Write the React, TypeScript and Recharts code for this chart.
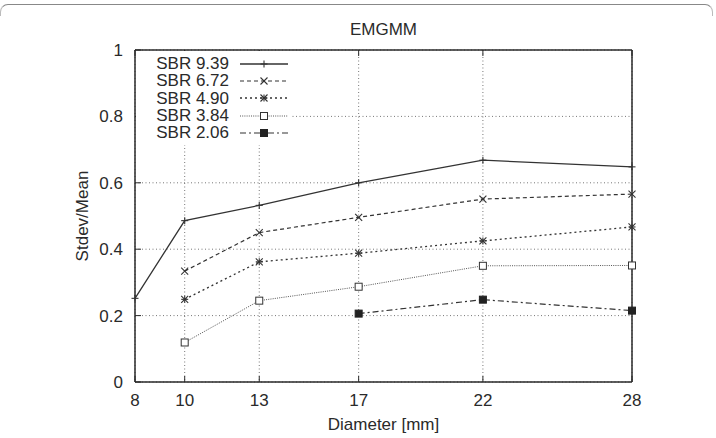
import React from 'react';
import { LineChart, Line, XAxis, YAxis, CartesianGrid, Legend, Label } from 'recharts';

const diameters = [8, 10, 13, 17, 22, 28];
const sbr939 = [0.252, 0.486, 0.532, 0.600, 0.668, 0.648];
const sbr672 = [null, 0.334, 0.450, 0.496, 0.551, 0.566];
const sbr490 = [null, 0.249, 0.362, 0.388, 0.425, 0.467];
const sbr384 = [null, 0.119, 0.245, 0.287, 0.350, 0.351];
const sbr206 = [null, null, null, 0.206, 0.248, 0.215];

const xTicks = [8, 10, 13, 17, 22, 28];
const yTicks = [0, 0.2, 0.4, 0.6, 0.8, 1];
const yTickLabels = ['0', '0.2', '0.4', '0.6', '0.8', '1'];

const title = 'EMGMM';
const xLabel = 'Diameter [mm]';
const yLabel = 'Stdev/Mean';

const FONT = '"Liberation Sans", Arial, Helvetica, sans-serif';
const INK = '#2a2a2a';
const FS = 17;

type Kind = 'plus' | 'cross' | 'star' | 'square' | 'fsquare';

const series: { key: string; name: string; values: (number | null)[]; dash: string; kind: Kind; color: string; width: number }[] = [
  { key: 's939', name: 'SBR 9.39', values: sbr939, dash: '', kind: 'plus', color: '#333', width: 1.3 },
  { key: 's672', name: 'SBR 6.72', values: sbr672, dash: '4 3', kind: 'cross', color: '#333', width: 1.2 },
  { key: 's490', name: 'SBR 4.90', values: sbr490, dash: '2 3', kind: 'star', color: '#333', width: 1.3 },
  { key: 's384', name: 'SBR 3.84', values: sbr384, dash: '1 1.2', kind: 'square', color: '#555', width: 1 },
  { key: 's206', name: 'SBR 2.06', values: sbr206, dash: '6 3 2 3', kind: 'fsquare', color: '#333', width: 1.2 },
];

const data = diameters.map((d, i) => {
  const row: any = { d };
  series.forEach((s) => { row[s.key] = s.values[i]; });
  return row;
});

function Marker({ kind, x, y, color }: { kind: Kind; x: number; y: number; color: string }) {
  const r = 3.5;
  if (kind === 'plus') {
    return (
      <g stroke={color} strokeWidth={1.1}>
        <line x1={x - r} y1={y} x2={x + r} y2={y} />
        <line x1={x} y1={y - r} x2={x} y2={y + r} />
      </g>
    );
  }
  if (kind === 'cross') {
    return (
      <g stroke={color} strokeWidth={1.1}>
        <line x1={x - r} y1={y - r} x2={x + r} y2={y + r} />
        <line x1={x - r} y1={y + r} x2={x + r} y2={y - r} />
      </g>
    );
  }
  if (kind === 'star') {
    return (
      <g stroke={color} strokeWidth={1.1}>
        <line x1={x - r} y1={y - r} x2={x + r} y2={y + r} />
        <line x1={x - r} y1={y + r} x2={x + r} y2={y - r} />
        <line x1={x - r} y1={y} x2={x + r} y2={y} />
        <line x1={x} y1={y - r} x2={x} y2={y + r} />
      </g>
    );
  }
  if (kind === 'square') {
    return <rect x={x - r} y={y - r} width={2 * r} height={2 * r} fill="#fff" stroke="#333" strokeWidth={1} />;
  }
  return <rect x={x - r} y={y - r} width={2 * r} height={2 * r} fill="#222" stroke="#222" strokeWidth={1} />;
}

const makeDot = (kind: Kind, color: string) => (props: any) => {
  const { cx, cy, index } = props;
  if (cx == null || cy == null || Number.isNaN(cx) || Number.isNaN(cy)) return <g key={`e-${index}`} />;
  return (
    <g key={`d-${index}`}>
      <Marker kind={kind} x={cx} y={cy} color={color} />
    </g>
  );
};

const TICK_LEN = 6;

const BottomTick = (props: any) => {
  const { x, y, payload } = props;
  return (
    <g>
      <line x1={x} y1={y} x2={x} y2={y - TICK_LEN} stroke={INK} strokeWidth={1} />
      <text x={x} y={y + 24} textAnchor="middle" fontSize={FS} fontFamily={FONT} fill={INK}>
        {payload.value}
      </text>
    </g>
  );
};

const TopTick = (props: any) => {
  const { x, y } = props;
  return <line x1={x} y1={y} x2={x} y2={y + TICK_LEN} stroke={INK} strokeWidth={1} />;
};

const LeftTick = (props: any) => {
  const { x, y, payload } = props;
  const idx = yTicks.indexOf(payload.value);
  return (
    <g>
      <line x1={x} y1={y} x2={x + TICK_LEN} y2={y} stroke={INK} strokeWidth={1} />
      <text x={x - 12} y={y + 6} textAnchor="end" fontSize={FS} fontFamily={FONT} fill={INK}>
        {idx >= 0 ? yTickLabels[idx] : payload.value}
      </text>
    </g>
  );
};

const RightTick = (props: any) => {
  const { x, y } = props;
  return <line x1={x} y1={y} x2={x - TICK_LEN} y2={y} stroke={INK} strokeWidth={1} />;
};

const LegendBox = () => (
  <div
    style={{
      background: '#fff',
      width: 156,
      paddingTop: 4,
      paddingBottom: 4,
      fontFamily: FONT,
      fontSize: FS,
      color: INK,
    }}
  >
    {series.map((s) => (
      <div key={s.key} style={{ display: 'flex', alignItems: 'center', height: 17.3 }}>
        <div style={{ width: 93, textAlign: 'right', lineHeight: '17.3px', whiteSpace: 'nowrap' }}>{s.name}</div>
        <svg width={48} height={12} style={{ marginLeft: 11, display: 'block' }}>
          <line x1={0} y1={6} x2={48} y2={6} stroke={s.color} strokeWidth={s.width} strokeDasharray={s.dash || undefined} />
          <Marker kind={s.kind} x={24} y={6} color={s.color} />
        </svg>
      </div>
    ))}
  </div>
);

const YLabelContent = (props: any) => {
  const vb = props.viewBox || { x: 0, y: 0, width: 0, height: 0 };
  const cx = vb.x + 82;
  const cy = vb.y + vb.height / 2;
  return (
    <text
      x={cx}
      y={cy}
      transform={`rotate(-90, ${cx}, ${cy})`}
      textAnchor="middle"
      dy={6}
      fontSize={FS}
      fontFamily={FONT}
      fill={INK}
    >
      {yLabel}
    </text>
  );
};

const XLabelContent = (props: any) => {
  const vb = props.viewBox || { x: 0, y: 0, width: 0, height: 0 };
  return (
    <text x={vb.x + vb.width / 2} y={vb.y + 48} textAnchor="middle" fontSize={FS} fontFamily={FONT} fill={INK}>
      {xLabel}
    </text>
  );
};

export default function App() {
  return (
    <div style={{ position: 'absolute', left: 0, top: 0, width: 716, height: 438, background: '#fff' }}>
      <div
        style={{
          position: 'absolute',
          left: 0,
          top: 4,
          width: 713,
          height: 12,
          borderTop: '1.5px solid #888',
          borderLeft: '1.5px solid #bbb',
          borderRight: '1.5px solid #bbb',
          borderTopLeftRadius: 8,
          borderTopRightRadius: 8,
          boxSizing: 'border-box',
        }}
      />
      <div
        style={{
          position: 'absolute',
          left: 0,
          top: 20,
          width: 767,
          textAlign: 'center',
          fontFamily: FONT,
          fontSize: FS,
          color: INK,
          lineHeight: '20px',
        }}
      >
        {title}
      </div>
      <LineChart width={716} height={438} data={data} margin={{ top: 49, right: 0, bottom: 0, left: 0 }}>
        <CartesianGrid xAxisId="b" yAxisId="l" stroke="#777" strokeDasharray="1 2.5" strokeWidth={1} />
        <XAxis
          xAxisId="b"
          dataKey="d"
          type="number"
          domain={[8, 28]}
          ticks={xTicks}
          interval={0}
          height={56}
          tickSize={0}
          tickMargin={0}
          tick={<BottomTick />}
          axisLine={{ stroke: INK, strokeWidth: 1.5 }}
          tickLine={false}
        >
          <Label content={<XLabelContent />} />
        </XAxis>
        <XAxis
          xAxisId="t"
          orientation="top"
          dataKey="d"
          type="number"
          domain={[8, 28]}
          ticks={xTicks}
          interval={0}
          height={1}
          tickSize={0}
          tickMargin={0}
          tick={<TopTick />}
          axisLine={{ stroke: INK, strokeWidth: 1.5 }}
          tickLine={false}
        />
        <YAxis
          yAxisId="l"
          type="number"
          domain={[0, 1]}
          ticks={yTicks}
          interval={0}
          width={135}
          tickSize={0}
          tickMargin={0}
          tick={<LeftTick />}
          axisLine={{ stroke: INK, strokeWidth: 1.5 }}
          tickLine={false}
        >
          <Label content={<YLabelContent />} />
        </YAxis>
        <YAxis
          yAxisId="r"
          orientation="right"
          type="number"
          domain={[0, 1]}
          ticks={yTicks}
          interval={0}
          width={84}
          tickSize={0}
          tickMargin={0}
          tick={<RightTick />}
          axisLine={{ stroke: INK, strokeWidth: 1.5 }}
          tickLine={false}
        />
        {series.map((s) => (
          <Line
            key={s.key}
            xAxisId="b"
            yAxisId="l"
            dataKey={s.key}
            name={s.name}
            type="linear"
            stroke={s.color}
            strokeWidth={s.width}
            strokeDasharray={s.dash || undefined}
            dot={makeDot(s.kind, s.color)}
            activeDot={false}
            isAnimationActive={false}
            connectNulls={false}
          />
        ))}
        <Legend
          layout="vertical"
          align="center"
          verticalAlign="middle"
          content={<LegendBox />}
          wrapperStyle={{ left: 136, top: 51, width: 156 }}
        />
      </LineChart>
    </div>
  );
}
